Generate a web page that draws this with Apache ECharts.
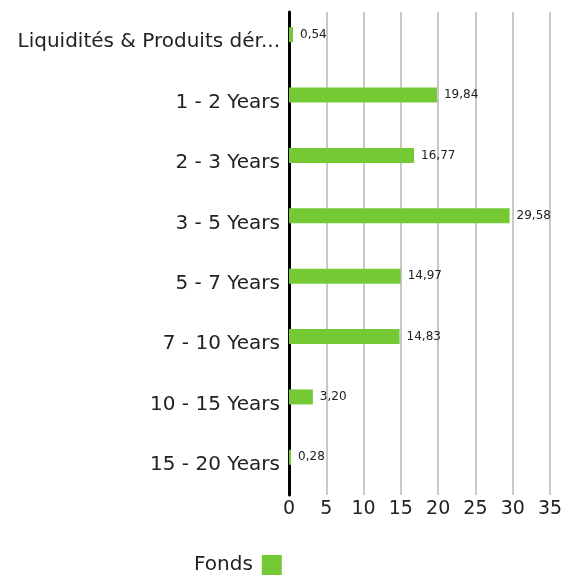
<!DOCTYPE html>
<html><head><meta charset="utf-8">
<script src="https://cdn.jsdelivr.net/npm/echarts@6/dist/echarts.min.js"></script>
<style>html,body{margin:0;padding:0;background:#fff}#c{width:575px;height:575px}</style>
</head><body><div id="c"></div>
<script>
const categories = ["Liquidités & Produits dérivés","1 - 2 Years","2 - 3 Years","3 - 5 Years","5 - 7 Years","7 - 10 Years","10 - 15 Years","15 - 20 Years"];
const fonds = [0.54,19.84,16.77,29.58,14.97,14.83,3.20,0.28];
const xTicks = [0,5,10,15,20,25,30,35];
const seriesName = "Fonds";
const FONT = 'DejaVu Sans';

const chart = echarts.init(document.getElementById('c'));
chart.setOption({
  animation:false,
  textStyle:{fontFamily:FONT},
  grid:{left:289,top:12,width:261,height:483,containLabel:false},
  legend:{data:[seriesName],left:189,top:550,itemWidth:20,itemHeight:20,align:'right',itemGap:8,
    icon:'rect',textStyle:{fontSize:20,color:'#222',fontFamily:FONT,padding:[0,4,0,0]}},
  xAxis:{type:'value',min:xTicks[0],max:xTicks[xTicks.length-1],interval:5,
    axisLine:{show:false},axisTick:{show:false},
    splitLine:{show:true,lineStyle:{color:'#c8c8c8',width:2}},
    axisLabel:{fontSize:19,color:'#222',margin:5}},
  yAxis:{type:'category',data:categories,inverse:true,
    axisLine:{show:true,lineStyle:{color:'#000',width:3}},
    axisTick:{show:false},
    axisLabel:{fontSize:20,color:'#222',margin:9,width:280,overflow:'truncate',ellipsis:'...'}},
  series:[
    {name:seriesName,type:'bar',data:fonds,barWidth:15,barGap:'0%',
      itemStyle:{color:'#74c935'},
      label:{show:true,position:'right',distance:7,fontSize:12,color:'#222',
        formatter:p=>p.value.toFixed(2).replace('.',',')}},
    {name:'_blank',type:'bar',data:[],barWidth:15,barGap:'0%'}
  ]
});
</script></body></html>
